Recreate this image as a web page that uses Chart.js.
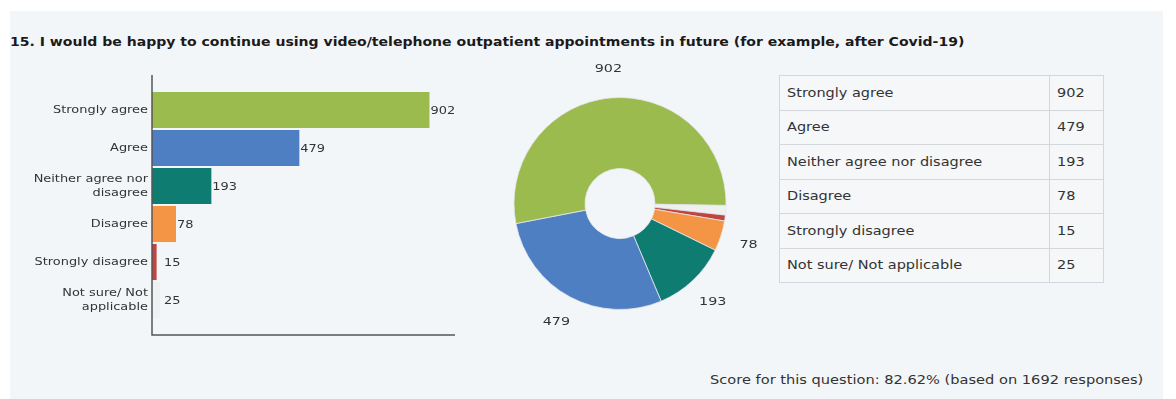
<!DOCTYPE html>
<html>
<head>
<meta charset="utf-8">
<script src="https://cdn.jsdelivr.net/npm/chart.js@4/dist/chart.umd.min.js"></script>
<style>
  html, body { margin: 0; padding: 0; background: #ffffff; }
  body { width: 1176px; height: 399px; position: relative; overflow: hidden; font-family: "DejaVu Sans", sans-serif; }
  #panel { position: absolute; left: 10px; top: 11px; width: 1153px; height: 388px; background: #f3f6f9; }
  .wide { display: inline-block; transform-origin: 0 50%; white-space: nowrap; }
  #title { position: absolute; left: 10px; top: 35px; font-weight: bold; font-size: 12px; color: #1a1a1a; white-space: nowrap; }
  #title .wide { transform: scaleX(1.17); }
  #barWrap { position: absolute; left: 0; top: 60px; width: 480px; height: 290px; }
  #pieWrap { position: absolute; left: 480px; top: 60px; width: 280px; height: 290px; }
  #answers { position: absolute; left: 779px; top: 75px; border-collapse: collapse; font-size: 11.5px; color: #333; background: #f5f7f9; }
  #answers td { border: 1px solid #d4d8dc; height: 33.5px; padding: 0 0 0 7px; }
  #answers td .wide { transform: scaleX(1.26); }
  #answers td.label { width: 262px; }
  #answers td.count { width: 46px; }
  #score { position: absolute; left: 710px; top: 373px; font-size: 11.5px; color: #333; white-space: nowrap; }
  #score .wide { transform: scaleX(1.27); }
</style>
</head>
<body>
<div id="panel"></div>
<div id="title"><span class="wide">15. I would be happy to continue using video/telephone outpatient appointments in future (for example, after Covid-19)</span></div>
<div id="barWrap"><canvas id="barChart" width="480" height="290"></canvas></div>
<div id="pieWrap"><canvas id="pieChart" width="280" height="290"></canvas></div>
<table id="answers"></table>
<div id="score"><span class="wide" id="scoreText"></span></div>
<script>
const categories = ["Strongly agree", "Agree", "Neither agree nor disagree", "Disagree", "Strongly disagree", "Not sure/ Not applicable"];
const tickLabels = ["Strongly agree", "Agree", ["Neither agree nor", "disagree"], "Disagree", "Strongly disagree", ["Not sure/ Not", "applicable"]];
const responses = [902, 479, 193, 78, 15, 25];
const colours = ["#9bbb4f", "#4f7fc3", "#0f7c72", "#f49545", "#c0443f", "#eef0f2"];
const scorePercent = 82.62;
const totalResponses = 1692;

const FONT = "'DejaVu Sans', sans-serif";
Chart.defaults.font.family = FONT;
Chart.defaults.font.size = 10.5;
Chart.defaults.color = "#333";

// the survey export uses a wide face, so text is stretched sideways
function wideText(ctx, text, x, y, align, stretch) {
  ctx.save();
  ctx.translate(x, y);
  ctx.scale(stretch, 1);
  ctx.textAlign = align;
  ctx.fillText(text, 0, 0);
  ctx.restore();
}

// axis lines run a little past the bars at both ends
const axisLines = {
  id: "axisLines",
  afterDraw(chart) {
    const { ctx, chartArea } = chart;
    ctx.save();
    ctx.strokeStyle = "#555";
    ctx.lineWidth = 1.5;
    ctx.beginPath();
    ctx.moveTo(chartArea.left, chartArea.top - 16);
    ctx.lineTo(chartArea.left, chartArea.bottom + 16);
    ctx.lineTo(chartArea.right, chartArea.bottom + 16);
    ctx.stroke();
    ctx.restore();
  }
};

const categoryNames = {
  id: "categoryNames",
  afterDraw(chart) {
    const { ctx } = chart;
    const yScale = chart.scales.y;
    ctx.save();
    ctx.font = "10.5px " + FONT;
    ctx.fillStyle = "#333";
    ctx.textBaseline = "middle";
    tickLabels.forEach((label, i) => {
      const lines = Array.isArray(label) ? label : [label];
      const y0 = yScale.getPixelForTick(i) - (lines.length - 1) * 7;
      lines.forEach((line, j) => wideText(ctx, line, chart.chartArea.left - 4, y0 + j * 14, "right", 1.23));
    });
    ctx.restore();
  }
};

const barValues = {
  id: "barValues",
  afterDatasetsDraw(chart) {
    const { ctx } = chart;
    const meta = chart.getDatasetMeta(0);
    ctx.save();
    ctx.font = "10.5px " + FONT;
    ctx.fillStyle = "#333";
    ctx.textBaseline = "middle";
    meta.data.forEach((bar, i) => {
      const x = Math.max(bar.x + 1, chart.chartArea.left + 12);
      wideText(ctx, String(responses[i]), x, bar.y + 1, "left", 1.23);
    });
    ctx.restore();
  }
};

new Chart(document.getElementById("barChart"), {
  type: "bar",
  data: {
    labels: tickLabels,
    datasets: [{
      data: responses,
      backgroundColor: colours,
      barPercentage: 0.95,
      categoryPercentage: 1
    }]
  },
  options: {
    indexAxis: "y",
    responsive: false,
    animation: false,
    layout: { padding: { top: 31, bottom: 31, right: 25 } },
    plugins: { legend: { display: false }, tooltip: { enabled: false } },
    scales: {
      x: {
        min: 0,
        max: 985,
        display: false
      },
      y: {
        grid: { display: false },
        border: { display: false },
        ticks: { color: "rgba(0,0,0,0)" },
        afterFit(scale) { scale.width = 152; }
      }
    }
  },
  plugins: [axisLines, categoryNames, barValues]
});

// values written outside the larger slices
const sliceValues = {
  id: "sliceValues",
  afterDatasetsDraw(chart) {
    const { ctx } = chart;
    const meta = chart.getDatasetMeta(0);
    const values = chart.data.datasets[0].data;
    ctx.save();
    ctx.font = "11px " + FONT;
    ctx.fillStyle = "#333";
    ctx.textBaseline = "middle";
    meta.data.forEach((arc, i) => {
      if (values[i] < 50) return;
      const mid = (arc.startAngle + arc.endAngle) / 2;
      const r = arc.outerRadius + 29;
      wideText(ctx, String(values[i]), arc.x + Math.cos(mid) * r, arc.y + Math.sin(mid) * r, "center", 1.3);
    });
    ctx.restore();
  }
};

// slices run clockwise from the last answer round to "Strongly agree"
new Chart(document.getElementById("pieChart"), {
  type: "doughnut",
  data: {
    labels: categories.slice().reverse(),
    datasets: [{
      data: responses.slice().reverse(),
      backgroundColor: colours.slice().reverse(),
      borderColor: "#e4e7ea",
      borderWidth: 0.8
    }]
  },
  options: {
    responsive: false,
    animation: false,
    rotation: 91,
    cutout: "33%",
    radius: 106,
    layout: { padding: { left: 33, right: 33, top: 37, bottom: 40 } },
    plugins: { legend: { display: false }, tooltip: { enabled: false } }
  },
  plugins: [sliceValues]
});

const table = document.getElementById("answers");
categories.forEach((name, i) => {
  const row = table.insertRow();
  const a = row.insertCell();
  a.className = "label";
  a.innerHTML = '<span class="wide"></span>';
  a.firstChild.textContent = name;
  const b = row.insertCell();
  b.className = "count";
  b.innerHTML = '<span class="wide"></span>';
  b.firstChild.textContent = responses[i];
});

document.getElementById("scoreText").textContent =
  "Score for this question: " + scorePercent.toFixed(2) + "% (based on " + totalResponses + " responses)";
</script>
</body>
</html>
